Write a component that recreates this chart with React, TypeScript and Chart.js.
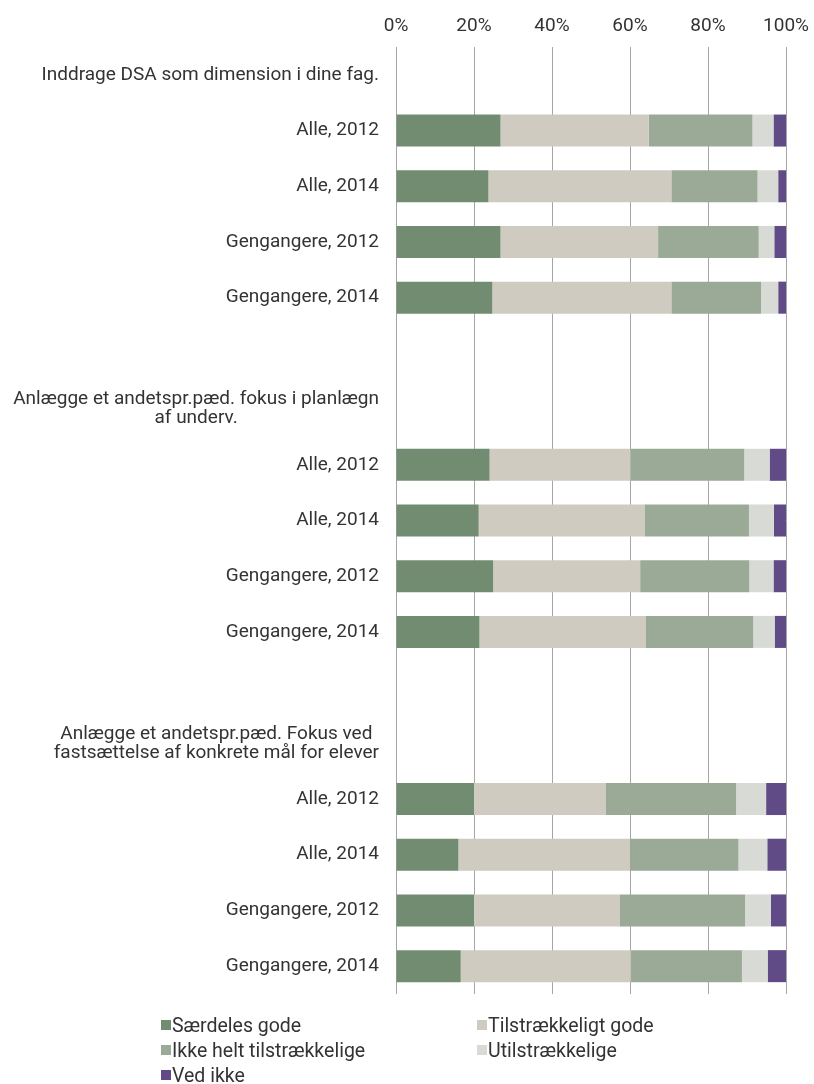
import React, { useEffect, useRef } from 'react';
import { Chart, registerables } from 'chart.js';

Chart.register(...registerables);

const categories: (string | string[])[] = [
  'Inddrage DSA som dimension i dine fag.',
  'Alle, 2012',
  'Alle, 2014',
  'Gengangere, 2012',
  'Gengangere, 2014',
  '',
  ['Anlægge et andetspr.pæd. fokus i planlægn', 'af underv.'],
  'Alle, 2012',
  'Alle, 2014',
  'Gengangere, 2012',
  'Gengangere, 2014',
  '',
  ['Anlægge et andetspr.pæd. Fokus ved', 'fastsættelse af konkrete mål for elever'],
  'Alle, 2012',
  'Alle, 2014',
  'Gengangere, 2012',
  'Gengangere, 2014',
];

const seriesNames = [
  'Særdeles gode',
  'Tilstrækkeligt gode',
  'Ikke helt tilstrækkelige',
  'Utilstrækkelige',
  'Ved ikke',
];

const seriesColors = ['#728C72', '#CFCBC0', '#9AAA97', '#D8DBD5', '#604B87'];

const saerdelesGode = [null, 26.8, 23.7, 26.8, 24.7, null, null, 24.0, 21.2, 24.9, 21.4, null, null, 20.0, 16.0, 20.0, 16.6];
const tilstraekkeligtGode = [null, 38.0, 46.9, 40.4, 45.9, null, null, 36.1, 42.5, 37.7, 42.7, null, null, 33.7, 44.0, 37.3, 43.6];
const ikkeHeltTilstraekkelige = [null, 26.6, 22.1, 25.8, 23.0, null, null, 29.2, 26.8, 28.0, 27.5, null, null, 33.5, 27.8, 32.2, 28.5];
const utilstraekkelige = [null, 5.4, 5.3, 4.0, 4.4, null, null, 6.5, 6.4, 6.2, 5.5, null, null, 7.7, 7.4, 6.6, 6.6];
const vedIkke = [null, 3.2, 2.0, 3.0, 2.0, null, null, 4.2, 3.1, 3.2, 2.9, null, null, 5.1, 4.8, 3.9, 4.7];

const tickValues = [0, 20, 40, 60, 80, 100];

const FONT = 'Roboto';
const TEXT_COLOR = '#333333';

const yLabelPlugin = {
  id: 'yLabels',
  afterDraw(chart: any) {
    const { ctx, chartArea } = chart;
    const yScale = chart.scales.y;
    ctx.save();
    ctx.font = `19px ${FONT}`;
    ctx.fillStyle = TEXT_COLOR;
    ctx.textBaseline = 'middle';
    ctx.textAlign = 'center';
    const right = chartArea.left - 17;
    const lh = 19;
    categories.forEach((lab, i) => {
      const lines = Array.isArray(lab) ? lab : [lab];
      if (lines.length === 1 && lines[0] === '') return;
      const w = Math.max(...lines.map((l) => ctx.measureText(l).width));
      const cy = yScale.getPixelForValue(i);
      lines.forEach((l, j) => {
        ctx.fillText(l, right - w / 2, cy + (j - (lines.length - 1) / 2) * lh);
      });
    });
    ctx.restore();
  },
};

export default function App() {
  const canvasRef = useRef<HTMLCanvasElement | null>(null);

  useEffect(() => {
    if (!canvasRef.current) return;
    const allData = [saerdelesGode, tilstraekkeligtGode, ikkeHeltTilstraekkelige, utilstraekkelige, vedIkke];
    const chart = new Chart(canvasRef.current, {
      type: 'bar',
      data: {
        labels: categories as any,
        datasets: seriesNames.map((name, k) => ({
          label: name,
          data: allData[k] as any,
          backgroundColor: seriesColors[k],
          borderWidth: 0,
          barPercentage: 0.575,
          categoryPercentage: 1,
        })),
      },
      options: {
        indexAxis: 'y',
        animation: false,
        responsive: false,
        devicePixelRatio: 1,
        layout: { padding: { left: 0, right: 28, top: 0, bottom: 90 } },
        plugins: {
          legend: { display: false },
          tooltip: { enabled: false },
        },
        scales: {
          x: {
            position: 'top',
            stacked: true,
            min: 0,
            max: 100,
            afterBuildTicks: (scale: any) => {
              scale.ticks = tickValues.map((v) => ({ value: v }));
            },
            afterFit: (scale: any) => {
              scale.height = 47;
              scale.paddingLeft = 0;
              scale.paddingRight = 0;
            },
            grid: { color: '#A6A6A6', lineWidth: 1, drawTicks: false },
            border: { display: false },
            ticks: {
              padding: 9,
              color: TEXT_COLOR,
              font: { family: FONT, size: 19 },
              callback: (v: any) => `${v}%`,
            },
          },
          y: {
            stacked: true,
            afterFit: (scale: any) => {
              scale.width = 396;
            },
            grid: { display: false },
            border: { display: false },
            ticks: { display: false },
          },
        },
      },
      plugins: [yLabelPlugin],
    });
    return () => chart.destroy();
  }, []);

  const legendCols = [161, 477];
  const legendRows = [1025, 1050, 1075];

  return (
    <div style={{ position: 'absolute', left: 0, top: 0, width: 814, height: 1084, overflow: 'hidden', background: '#fff' }}>
      <canvas ref={canvasRef} width={814} height={1084} style={{ display: 'block' }} />
      {seriesNames.map((name, k) => (
        <div
          key={name}
          style={{
            position: 'absolute',
            left: legendCols[k % 2],
            top: legendRows[Math.floor(k / 2)] - 12,
            height: 24,
            display: 'flex',
            alignItems: 'center',
            fontFamily: FONT,
            fontSize: 19.5,
            color: TEXT_COLOR,
            whiteSpace: 'nowrap',
          }}
        >
          <span style={{ display: 'inline-block', width: 10, height: 10, background: seriesColors[k], marginRight: 1 }} />
          <span>{name}</span>
        </div>
      ))}
    </div>
  );
}
